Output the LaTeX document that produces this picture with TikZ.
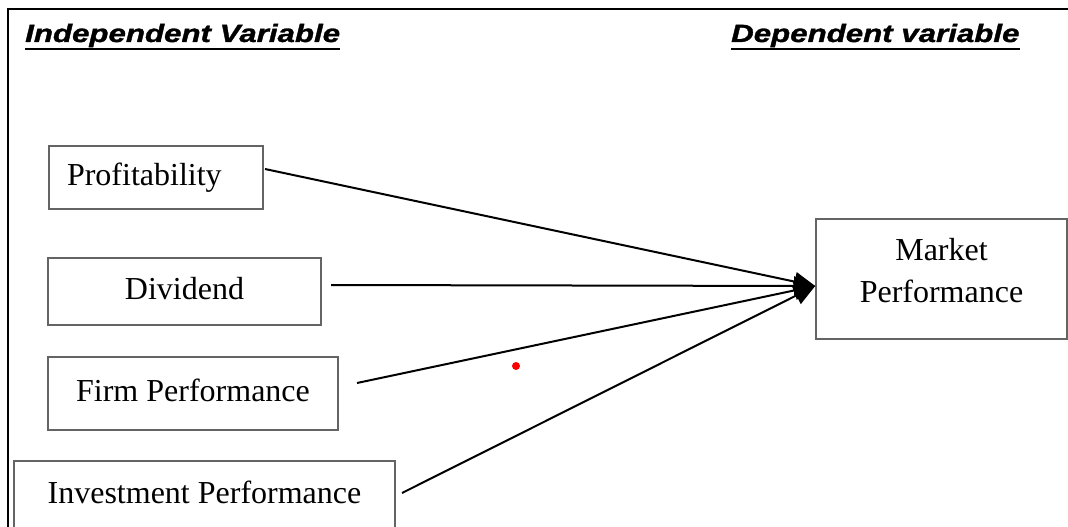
\documentclass[tikz,border=0pt]{standalone}
\usepackage{fontspec}
\usepackage{graphicx}
\setmainfont{Liberation Serif}
\newfontfamily\titlefont{Liberation Sans}[BoldItalicFeatures={FakeBold=1.2}]
\usetikzlibrary{arrows.meta}
\definecolor{boxgray}{RGB}{100,100,100}
\tikzset{
  box/.style={draw=boxgray, line width=1.6pt, inner xsep=0pt, inner ysep=0pt,
    text height=23pt, text depth=7pt, font=\fontsize{32}{42}\selectfont},
  link/.style={line width=2pt, -{Triangle[length=21pt,width=19pt]}},
  heading/.style={inner sep=0pt, anchor=base west,
    font=\titlefont\bfseries\itshape\fontsize{25}{29}\selectfont},
  uline/.style={line width=2pt}
}
\begin{document}
\begin{tikzpicture}[x=1pt,y=-1pt]
\useasboundingbox (0,0) rectangle (1068,527);
\clip (0,0) rectangle (1068,527);
\fill[white] (0,0) rectangle (1068,527);
% outer frame
\coordinate (fbl) at (8,530);
\coordinate (ftl) at (8,9);
\coordinate (ftr) at (1070,9);
\draw[line width=1.5pt] (fbl) -- (ftl) -- (ftr);
% headings
\node[heading] (h1) at (25,42) {\scalebox{1.25}[1]{Independent Variable}};
\node[heading] (h2) at (731,42) {\scalebox{1.25}[1]{Dependent variable}};
\draw[uline] ([yshift=-7pt]h1.base west) -- ([yshift=-7pt]h1.base east);
\draw[uline] ([yshift=-7pt]h2.base west) -- ([yshift=-7pt]h2.base east);
% boxes
\node[box, minimum height=63pt, text width=178pt, inner xsep=18pt, align=left]
  (prof) at (156,177.5) {Profitability};
\node[box, minimum width=273pt, minimum height=67pt] (div) at (184.5,291.5) {Dividend};
\node[box, minimum width=290pt, minimum height=73pt] (firm) at (193,393.5) {Firm Performance};
\node[box, minimum width=381pt, minimum height=68pt] (inv) at (204.5,495) {Investment Performance};
\node[box, minimum width=251pt, minimum height=120pt, align=center,
  text height=65pt, text depth=19pt]
  (mkt) at (941.5,279) {Market\\Performance};
% connector ends
\coordinate (s1) at (265,169);
\coordinate (s2) at (331,285);
\coordinate (s3) at (357,383);
\coordinate (s4) at (402,493);
\coordinate (tip) at ([yshift=-7pt]mkt.west);
\draw[link] (s1) -- (tip);
\draw[link] (s2) -- (tip);
\draw[link] (s3) -- (tip);
\draw[link] (s4) -- (tip);
% red dot
\node[circle, fill=red, inner sep=0pt, minimum size=8pt] (dot) at (516,366) {};
\end{tikzpicture}
\end{document}
